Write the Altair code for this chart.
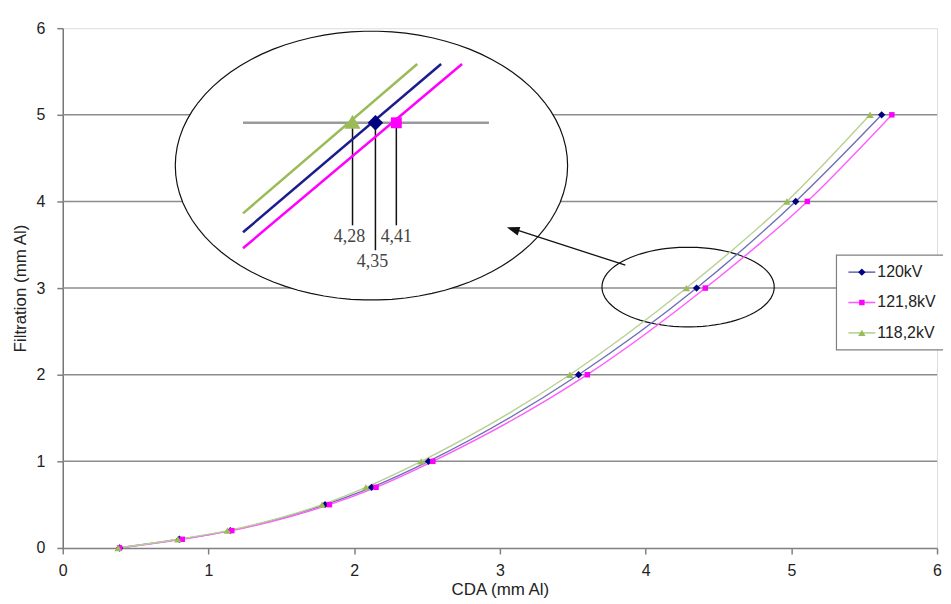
import altair as alt
import pandas as pd
import numpy as np

# ---------------- data ----------------
filtration = [0, 0.1, 0.2, 0.5, 0.7, 1, 2, 3, 4, 5]
cda_120 = [0.39, 0.80, 1.15, 1.80, 2.12, 2.51, 3.54, 4.35, 5.03, 5.62]
cda_1218 = [0.39, 0.82, 1.16, 1.83, 2.15, 2.54, 3.60, 4.41, 5.11, 5.69]
cda_1182 = [0.38, 0.79, 1.13, 1.78, 2.08, 2.46, 3.48, 4.28, 4.97, 5.54]
series_names = ["120kV", "121,8kV", "118,2kV"]
inset_labels = ["4,28", "4,35", "4,41"]
x_ticks = [0, 1, 2, 3, 4, 5, 6]
y_ticks = [0, 1, 2, 3, 4, 5, 6]
grid_levels = [1, 2, 3, 4, 5]

# ---------------- styles ----------------
line_colors = ["#6e6eb8", "#ff5cff", "#b5d290"]
marker_colors = ["#000080", "#ff00ff", "#9bbb59"]
marker_shapes = ["diamond", "square", "triangle-up"]
marker_sizes = [55, 30, 55]
FONT = "Liberation Sans"

rows = []
for name, vals in zip(series_names, [cda_120, cda_1218, cda_1182]):
    for f, c in zip(filtration, vals):
        rows.append({"series": name, "x": c, "y": f})
df = pd.DataFrame(rows)

# plot geometry
W, H = 878, 522
LEFT, TOP = 55, 19
X0, Y0 = 8 + LEFT, 8 + TOP + H
XS, YS = W / 6.0, H / 6.0

# page-pixel -> data helpers for the decorative annotation (inset, ellipses, arrow, legend)
def dx(px):
    return (px - X0) / XS
def dy(py):
    return (Y0 - py) / YS

xscale = alt.Scale(domain=[0, 6], nice=False, zero=False)
yscale = alt.Scale(domain=[0, 6], nice=False, zero=False)
xaxis = alt.Axis(values=x_ticks, format="d", grid=False, labelFlush=False,
                 labelFont=FONT, labelFontSize=16, labelColor="#222",
                 tickSize=6, tickColor="#808080", tickWidth=1.5,
                 domainColor="#808080", domainWidth=1.5, labelPadding=9,
                 titleFont=FONT, titleFontSize=17, titleFontWeight="normal",
                 titleColor="#222", titlePadding=3)
yaxis = alt.Axis(values=y_ticks, format="d", grid=False, labelFlush=False,
                 labelFont=FONT, labelFontSize=16, labelColor="#222",
                 tickSize=6, tickColor="#808080", tickWidth=1.5,
                 domainColor="#777777", domainWidth=1.5, labelPadding=12,
                 titleFont=FONT, titleFontSize=17, titleFontWeight="normal",
                 titleColor="#222", titlePadding=7)

def X(field="x"):
    return alt.X(f"{field}:Q", scale=xscale, axis=xaxis, title="CDA (mm Al)")
def Y(field="y"):
    return alt.Y(f"{field}:Q", scale=yscale, axis=yaxis, title="Filtration (mm Al)")

def pt_df(points, **extra):
    d = pd.DataFrame([{"x": dx(a), "y": dy(b)} for a, b in points])
    for k, v in extra.items():
        d[k] = v
    return d

def seg_df(segs):
    return pd.DataFrame([{"x": dx(a), "y": dy(b), "x2": dx(c), "y2": dy(d)} for a, b, c, d in segs])

def seg_layer(segs, color, width):
    return alt.Chart(seg_df(segs)).mark_rule(color=color, strokeWidth=width).encode(
        x=X(), y=Y(), x2="x2:Q", y2="y2:Q")

layers = []

# horizontal grid lines
layers.append(alt.Chart(pd.DataFrame({"y": grid_levels})).mark_rule(
    color="#8c8c8c", strokeWidth=1.5).encode(y=Y()))

# ellipses (decorative), drawn as custom symbol paths
def ellipse_path(ratio, n=90):
    t = np.linspace(0, 2 * np.pi, n, endpoint=False)
    pts = [f"{np.cos(a):.4f},{ratio * np.sin(a):.4f}" for a in t]
    return "M" + "L".join(pts) + "Z"

big_rx, big_ry, big_cx, big_cy = 197, 135, 373, 165
small_rx, small_ry, small_cx, small_cy = 86.5, 40, 691, 287

layers.append(alt.Chart(pt_df([(big_cx, big_cy)])).mark_point(
    shape=ellipse_path(big_ry / big_rx), size=(2 * big_rx) ** 2, filled=True,
    fill="white", fillOpacity=1, stroke="#111", strokeWidth=1.2, opacity=1
).encode(x=X(), y=Y()))
layers.append(alt.Chart(pt_df([(small_cx, small_cy)])).mark_point(
    shape=ellipse_path(small_ry / small_rx), size=(2 * small_rx) ** 2, filled=False,
    stroke="#111", strokeWidth=1.2, opacity=1
).encode(x=X(), y=Y()))

# inset contents
layers.append(seg_layer([(244, 122, 491, 122)], "#9a9a9a", 2.5))
layers.append(seg_layer([(354, 124, 354, 225), (377, 124, 377, 250), (398, 124, 398, 225)], "#111", 1.5))
inset_lines = [(244, 213, 419, 63), (244, 232, 443, 63), (244, 248, 464, 63)]
inset_colors = ["#9bbb59", "#1c1c8c", "#ff00ff"]
for seg, col in zip(inset_lines, inset_colors):
    layers.append(seg_layer([seg], col, 2.5))

inset_markers = [((354, 121), "triangle-up", 260, "#9bbb59"),
                 ((377, 122), "diamond", 240, "#000080"),
                 ((398, 122), "square", 120, "#ff00ff")]
for pos, shp, sz, col in inset_markers:
    layers.append(alt.Chart(pt_df([pos])).mark_point(
        shape=shp, size=sz, filled=True, color=col, opacity=1).encode(x=X(), y=Y()))

label_pos = [(351, 237), (374, 262), (398, 237)]
lab_df = pt_df(label_pos, t=inset_labels)
layers.append(alt.Chart(lab_df).mark_text(
    font="Liberation Serif", fontSize=18, color="#444", baseline="middle", align="center"
).encode(x=X(), y=Y(), text="t:N"))

# arrow
layers.append(seg_layer([(628, 265, 514, 228)], "#111", 1.3))
ang = float(np.degrees(np.arctan2(265 - 227, 628 - 509)))
layers.append(alt.Chart(pt_df([(509, 227)])).mark_point(
    shape="M0,0L1.6,-0.55L1.6,0.55Z", size=256, angle=ang, filled=True,
    color="#111", opacity=1).encode(x=X(), y=Y()))

# data lines
layers.append(alt.Chart(df).mark_line(strokeWidth=1.4, interpolate="monotone").encode(
    x=X(), y=Y(),
    color=alt.Color("series:N", scale=alt.Scale(domain=series_names, range=line_colors), legend=None),
    detail="series:N"))

# data markers
for name, col, shp, sz in zip(series_names, marker_colors, marker_shapes, marker_sizes):
    layers.append(alt.Chart(df[df.series == name]).mark_point(
        shape=shp, size=sz, filled=True, color=col, opacity=1).encode(x=X(), y=Y()))

# legend (drawn box with entries)
layers.append(alt.Chart(pd.DataFrame([{"x": dx(840), "x2": dx(975), "y": dy(255), "y2": dy(350)}])).mark_rect(
    fill="white", stroke="#808080", strokeWidth=1.2).encode(x=X(), y=Y(), x2="x2:Q", y2="y2:Q"))
legend_rows = [272, 302.5, 333]
for name, row, lc, mc, shp, sz in zip(series_names, legend_rows, line_colors, marker_colors,
                                      marker_shapes, marker_sizes):
    layers.append(seg_layer([(852, row, 879, row)], lc, 1.6))
    layers.append(alt.Chart(pt_df([(865.5, row)])).mark_point(
        shape=shp, size=sz, filled=True, color=mc, opacity=1).encode(x=X(), y=Y()))
    layers.append(alt.Chart(pt_df([(881, row)], t=[name])).mark_text(
        font=FONT, fontSize=16, color="#222", align="left", baseline="middle"
    ).encode(x=X(), y=Y(), text="t:N"))

chart = alt.layer(*layers).properties(
    width=W, height=H,
    autosize=alt.AutoSizeParams(type="none"),
    padding={"left": LEFT, "top": TOP, "right": 6, "bottom": 55},
).configure_view(stroke=None).configure(background="white")

chart.save("out.html", embed_options={"renderer": "svg", "actions": False})
